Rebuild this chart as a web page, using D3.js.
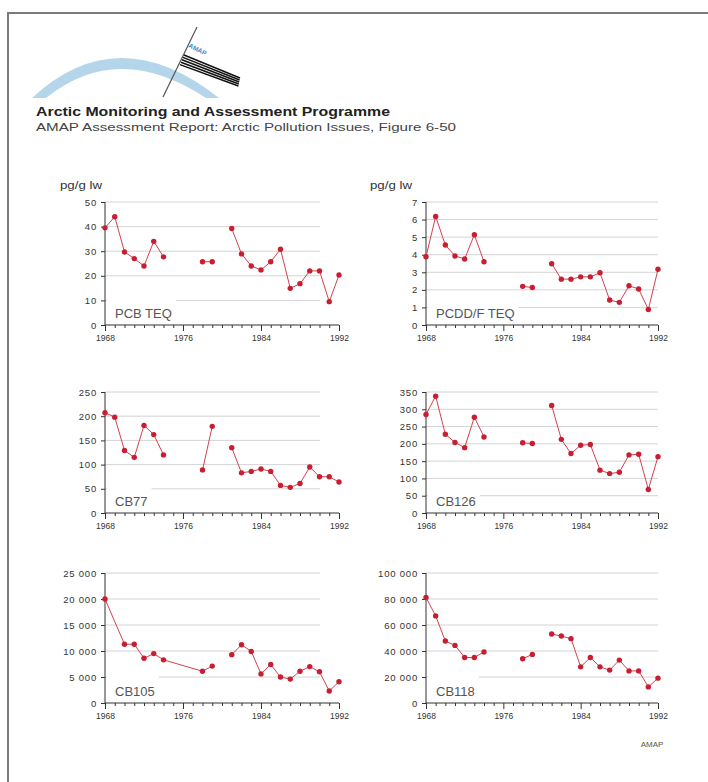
<!DOCTYPE html>
<html>
<head>
<meta charset="utf-8">
<script src="https://cdn.jsdelivr.net/npm/d3@7"></script>
<style>
  body { margin: 0; background: #fff; }
  svg { display: block; font-family: "Liberation Sans", Arial, sans-serif; }
</style>
</head>
<body>
<div id="chart"></div>
<script>
// ==============================
// DATOS
// ==============================

// Años de muestreo; null en los valores = corte de la línea
const years = [1968, 1969, 1970, 1971, 1972, 1973, 1974, 1975,
  1978, 1979, 1980,
  1981, 1982, 1983, 1984, 1985, 1986, 1987, 1988, 1989, 1990, 1991, 1992];
// CB105 no tiene 1969 y une 1974 con 1978
const years105 = [1968, 1970, 1971, 1972, 1973, 1974,
  1978, 1979, 1980,
  1981, 1982, 1983, 1984, 1985, 1986, 1987, 1988, 1989, 1990, 1991, 1992];

const pcbTeq = [39.5, 44, 29.7, 27, 24, 34, 27.7, null,
  25.7, 25.7, null,
  39.2, 28.9, 24, 22.4, 25.7, 30.8, 14.9, 16.8, 22, 22, 9.5, 20.3];
const pcddTeq = [3.88, 6.18, 4.55, 3.93, 3.76, 5.14, 3.6, null,
  2.2, 2.13, null,
  3.49, 2.61, 2.61, 2.74, 2.74, 2.97, 1.42, 1.29, 2.23, 2.05, 0.88, 3.17];
const cb77 = [207, 198, 129, 115, 181, 162, 120, null,
  89, 179, null,
  135, 83, 86, 91, 86, 57, 53, 61, 95, 75, 75, 64];
const cb126 = [285, 338, 228, 204, 189, 277, 220, null,
  203, 201, null,
  311, 213, 172, 196, 198, 124, 114, 118, 168, 170, 68, 163];
const cb105 = [20000, 11300, 11300, 8600, 9500, 8300,
  6100, 7100, null,
  9300, 11200, 9900, 5600, 7400, 5000, 4600, 6100, 7000, 6000, 2300, 4100];
const cb118 = [81200, 67000, 47700, 44300, 35000, 35000, 39200, null,
  34000, 37400, null,
  53100, 51500, 49500, 27800, 35000, 27800, 25300, 33000, 24700, 24700, 12400, 19100];

const panelNames = ["PCB TEQ", "PCDD/F TEQ", "CB77", "CB126", "CB105", "CB118"];
const yMax = [50, 7, 250, 350, 25000, 100000];
const yStep = [10, 1, 50, 50, 5000, 20000];
const xTickYears = [1968, 1976, 1984, 1992];

// ==============================
// CONFIGURACIÓN GENERAL
// ==============================
const width = 708;
const height = 782;

const svg = d3.select("#chart")
  .append("svg")
  .attr("width", width)
  .attr("height", height);

// marco gris
svg.append("path")
  .attr("d", "M8,782 V13 H708")
  .attr("fill", "none")
  .attr("stroke", "#7a7a7a")
  .attr("stroke-width", 2);

// ==============================
// ENCABEZADO (logo y títulos)
// ==============================
const logo = svg.append("g");
logo.append("path")
  .attr("d", "M32,98 Q118,18 219,98 L206,98 Q118,40 46,98 Z")
  .attr("fill", "#b5d6ea");
logo.append("line")
  .attr("x1", 197).attr("y1", 27).attr("x2", 163).attr("y2", 97)
  .attr("stroke", "#555").attr("stroke-width", 1.2);
// bandera con franjas
[0, 1, 2, 3, 4].forEach(i => {
  logo.append("line")
    .attr("x1", 184 - i * 1).attr("y1", 55 + i * 2.4)
    .attr("x2", 240 - i * 0.4).attr("y2", 78 + i * 2)
    .attr("stroke", "#111")
    .attr("stroke-width", 1.5);
});
logo.append("text")
  .attr("transform", "translate(188,47) rotate(27)")
  .attr("font-size", 6.5)
  .attr("font-weight", "bold")
  .attr("fill", "#3f86c6")
  .text("AMAP");

svg.append("text")
  .attr("x", 36).attr("y", 116)
  .attr("font-size", 12)
  .attr("font-weight", "bold")
  .attr("fill", "#222")
  .attr("textLength", 354)
  .attr("lengthAdjust", "spacingAndGlyphs")
  .text("Arctic Monitoring and Assessment Programme");

svg.append("text")
  .attr("x", 36).attr("y", 131)
  .attr("font-size", 11)
  .attr("fill", "#444")
  .attr("textLength", 420)
  .attr("lengthAdjust", "spacingAndGlyphs")
  .text("AMAP Assessment Report: Arctic Pollution Issues, Figure 6-50");

// unidades
[60, 370].forEach(x => {
  svg.append("text")
    .attr("x", x).attr("y", 189)
    .attr("font-size", 11)
    .attr("fill", "#333")
    .attr("textLength", 42)
    .attr("lengthAdjust", "spacingAndGlyphs")
    .text("pg/g lw");
});

svg.append("text")
  .attr("x", 652).attr("y", 747)
  .attr("text-anchor", "middle")
  .attr("font-size", 8)
  .attr("fill", "#555")
  .text("AMAP");

// ==============================
// PANELES
// ==============================
const cols = [{ x0: 105, x1: 339, gridEnd: 320 }, { x0: 426, x1: 658, gridEnd: 658 }];
const rows = [{ top: 202, bottom: 325 }, { top: 392, bottom: 513 }, { top: 573, bottom: 703 }];

const spaceFmt = d3.formatLocale({ decimal: ".", thousands: " ", grouping: [3], currency: ["", ""] }).format(",");

const panelData = [
  { years: years, values: pcbTeq },
  { years: years, values: pcddTeq },
  { years: years, values: cb77 },
  { years: years, values: cb126 },
  { years: years105, values: cb105 },
  { years: years, values: cb118 }
];

panelData.forEach((p, i) => {
  const col = cols[i % 2];
  const row = rows[Math.floor(i / 2)];

  const x = d3.scaleLinear().domain([1968, 1992]).range([col.x0, col.x1]);
  const y = d3.scaleLinear().domain([0, yMax[i]]).range([row.bottom, row.top]);
  const yTicks = d3.range(0, yMax[i] + yStep[i] / 2, yStep[i]);

  const g = svg.append("g");

  // líneas guía
  g.append("g").selectAll("line")
    .data(yTicks.filter(d => d > 0))
    .join("line")
    .attr("x1", col.x0).attr("x2", col.gridEnd)
    .attr("y1", d => y(d)).attr("y2", d => y(d))
    .attr("stroke", "#d4d4d4")
    .attr("stroke-width", 1);

  // nombre del compuesto sobre caja blanca
  const label = g.append("text")
    .attr("x", col.x0 + 10)
    .attr("y", row.bottom - 7)
    .attr("font-size", 13)
    .attr("fill", "#555")
    .text(panelNames[i]);
  const bb = label.node().getBBox();
  g.insert("rect", "text")
    .attr("x", col.x0 + 2)
    .attr("y", row.bottom - 27)
    .attr("width", bb.width + 12)
    .attr("height", 25)
    .attr("fill", "#fff");

  // eje Y
  const yAxis = g.append("g")
    .attr("transform", `translate(${col.x0},0)`)
    .call(d3.axisLeft(y).tickValues(yTicks).tickSize(4).tickPadding(4).tickFormat(spaceFmt));
  yAxis.select(".domain").attr("d", `M0,${row.top}V${row.bottom}`);

  // eje X: marca por año, etiqueta cada 8
  const xAxis = g.append("g")
    .attr("transform", `translate(0,${row.bottom})`)
    .call(d3.axisBottom(x)
      .tickValues(d3.range(1968, 1993))
      .tickSize(3)
      .tickPadding(7)
      .tickFormat(d => xTickYears.includes(d) ? d : ""));
  xAxis.selectAll(".tick line")
    .attr("y2", d => xTickYears.includes(d) ? 6 : 3);
  xAxis.select(".domain").attr("d", `M${col.x0},0H${col.x1}`);

  [yAxis, xAxis].forEach(a => {
    a.selectAll(".domain, .tick line").attr("stroke", "#333");
    a.selectAll("text").attr("fill", "#333").attr("font-family", null);
  });
  xAxis.selectAll("text").attr("font-size", 8.5);
  yAxis.selectAll("text").attr("font-size", 9.5).attr("letter-spacing", 0.8);

  // serie
  const pts = p.years.map((yr, k) => ({ yr: yr, v: p.values[k] }));
  const line = d3.line()
    .defined(d => d.v != null)
    .x(d => x(d.yr))
    .y(d => y(d.v));

  g.append("path")
    .datum(pts)
    .attr("d", line)
    .attr("fill", "none")
    .attr("stroke", "#d4414f")
    .attr("stroke-width", 1);

  g.append("g").selectAll("circle")
    .data(pts.filter(d => d.v != null))
    .join("circle")
    .attr("cx", d => x(d.yr))
    .attr("cy", d => y(d.v))
    .attr("r", 2.7)
    .attr("fill", "#c81e32");
});
</script>
</body>
</html>
